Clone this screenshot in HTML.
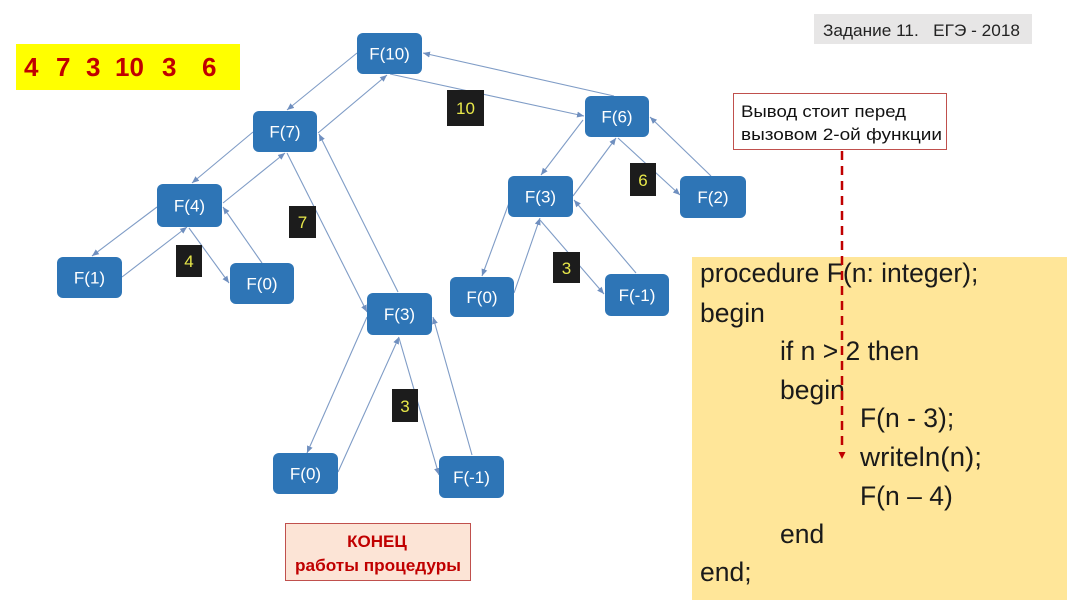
<!DOCTYPE html>
<html><head><meta charset="utf-8"><style>
html,body{margin:0;padding:0;background:#fff;}
body{width:1067px;height:600px;overflow:hidden;position:relative;font-family:"Liberation Sans",sans-serif;}
svg{position:absolute;left:0;top:0;}
</style></head><body>
<svg width="1067" height="600" viewBox="0 0 1067 600" xmlns="http://www.w3.org/2000/svg">
<defs>
<marker id="a" markerUnits="userSpaceOnUse" markerWidth="8" markerHeight="8" refX="7" refY="4" orient="auto">
<path d="M0,1 L7,4 L0,7 z" fill="#6f8fbf"/>
</marker>
</defs>
<!-- procedure box -->
<rect x="692" y="257" width="375" height="343" fill="#ffe699"/>
<!-- yellow numbers -->
<rect x="16" y="44" width="224" height="46" fill="#ffff00"/>
<g font-family="Liberation Sans, sans-serif" font-weight="bold" font-size="26" fill="#c00000">
<text x="24" y="76">4</text><text x="56" y="76">7</text><text x="86" y="76">3</text><text x="115" y="76">10</text><text x="162" y="76">3</text><text x="202" y="76">6</text>
</g>
<!-- title -->
<rect x="814" y="14" width="218" height="30" fill="#e7e6e6"/>
<text x="823" y="36" font-size="16.5" fill="#222" font-family="Liberation Sans, sans-serif" xml:space="preserve" textLength="197" lengthAdjust="spacingAndGlyphs">Задание 11.   ЕГЭ - 2018</text>
<!-- note box -->
<rect x="733.5" y="93.5" width="213" height="56" fill="#fff" stroke="#c0504d" stroke-width="1"/>
<text x="741" y="117" font-size="17" fill="#111" font-family="Liberation Sans, sans-serif" textLength="165" lengthAdjust="spacingAndGlyphs">Вывод стоит перед</text>
<text x="741" y="140" font-size="17" fill="#111" font-family="Liberation Sans, sans-serif" textLength="201" lengthAdjust="spacingAndGlyphs">вызовом 2-ой функции</text>
<!-- connectors -->
<g stroke="#7f9cc6" stroke-width="1.1" fill="none" marker-end="url(#a)">
<line x1="357" y1="53" x2="287" y2="110"/>
<line x1="318" y1="133" x2="387" y2="75"/>
<line x1="253" y1="132" x2="192" y2="183"/>
<line x1="223" y1="203" x2="285" y2="153"/>
<line x1="157" y1="207" x2="92" y2="256"/>
<line x1="122" y1="277" x2="187" y2="227"/>
<line x1="189" y1="228" x2="229" y2="283"/>
<line x1="262" y1="263" x2="223" y2="207"/>
<line x1="287" y1="153" x2="367" y2="312"/>
<line x1="398" y1="292" x2="319" y2="134"/>
<line x1="390" y1="74" x2="584" y2="116"/>
<line x1="614" y1="96" x2="423" y2="53"/>
<line x1="583" y1="120" x2="541" y2="175"/>
<line x1="573" y1="196" x2="616" y2="138"/>
<line x1="618" y1="138" x2="680" y2="195"/>
<line x1="711" y1="176" x2="650" y2="117"/>
<line x1="509" y1="203" x2="482" y2="276"/>
<line x1="514" y1="293" x2="540" y2="218"/>
<line x1="540" y1="220" x2="604" y2="294"/>
<line x1="636" y1="273" x2="574" y2="200"/>
<line x1="367" y1="317" x2="307" y2="453"/>
<line x1="338" y1="472" x2="399" y2="337"/>
<line x1="399" y1="338" x2="439" y2="475"/>
<line x1="472" y1="455" x2="433" y2="317"/>
</g>
<!-- nodes -->
<g fill="#2e75b6">
<rect x="357" y="33" width="65" height="41" rx="6"/>
<rect x="253" y="111" width="64" height="41" rx="6"/>
<rect x="157" y="184" width="65" height="43" rx="6"/>
<rect x="57" y="257" width="65" height="41" rx="6"/>
<rect x="230" y="263" width="64" height="41" rx="6"/>
<rect x="367" y="293" width="65" height="42" rx="6"/>
<rect x="273" y="453" width="65" height="41" rx="6"/>
<rect x="439" y="456" width="65" height="42" rx="6"/>
<rect x="585" y="96" width="64" height="41" rx="6"/>
<rect x="508" y="176" width="65" height="41" rx="6"/>
<rect x="680" y="176" width="66" height="42" rx="6"/>
<rect x="450" y="277" width="64" height="40" rx="6"/>
<rect x="605" y="274" width="64" height="42" rx="6"/>
</g>
<g fill="#fff" font-size="17" text-anchor="middle" font-family="Liberation Sans, sans-serif">
<text x="389.5" y="59.5">F(10)</text>
<text x="285" y="137.5">F(7)</text>
<text x="189.5" y="211.5">F(4)</text>
<text x="89.5" y="283.5">F(1)</text>
<text x="262" y="289.5">F(0)</text>
<text x="399.5" y="320">F(3)</text>
<text x="305.5" y="479.5">F(0)</text>
<text x="471.5" y="483">F(-1)</text>
<text x="617" y="122.5">F(6)</text>
<text x="540.5" y="202.5">F(3)</text>
<text x="713" y="203">F(2)</text>
<text x="482" y="303">F(0)</text>
<text x="637" y="301">F(-1)</text>
</g>
<!-- labels -->
<g fill="#1c1c1c">
<rect x="447" y="90" width="37" height="36"/>
<rect x="289" y="206" width="27" height="32"/>
<rect x="176" y="245" width="26" height="32"/>
<rect x="630" y="163" width="26" height="33"/>
<rect x="553" y="252" width="27" height="31"/>
<rect x="392" y="389" width="26" height="33"/>
</g>
<g fill="#e8e84a" font-size="17" text-anchor="middle" font-family="Liberation Sans, sans-serif">
<text x="465.5" y="114">10</text>
<text x="302.5" y="228">7</text>
<text x="189" y="267">4</text>
<text x="643" y="186">6</text>
<text x="566.5" y="274">3</text>
<text x="405" y="412">3</text>
</g>
<!-- KONEC box -->
<rect x="285.5" y="523.5" width="185" height="57" fill="#fce4d6" stroke="#c0504d" stroke-width="1"/>
<text x="377" y="547" font-size="17" font-weight="bold" fill="#c00000" text-anchor="middle" font-family="Liberation Sans, sans-serif">КОНЕЦ</text>
<text x="378" y="571" font-size="17" font-weight="bold" fill="#c00000" text-anchor="middle" font-family="Liberation Sans, sans-serif" textLength="166" lengthAdjust="spacingAndGlyphs">работы процедуры</text>
<!-- code -->
<g font-size="26.5" fill="#1a1a1a" font-family="Liberation Sans, sans-serif">
<text x="700" y="282">procedure F(n: integer);</text>
<text x="700" y="322">begin</text>
<text x="780" y="360">if n &gt; 2 then</text>
<text x="780" y="399">begin</text>
<text x="860" y="427">F(n - 3);</text>
<text x="860" y="466" textLength="122" lengthAdjust="spacingAndGlyphs">writeln(n);</text>
<text x="860" y="505">F(n – 4)</text>
<text x="780" y="543">end</text>
<text x="700" y="581">end;</text>
</g>
<!-- red dashed -->
<line x1="842" y1="151" x2="842" y2="450" stroke="#c00000" stroke-width="2.5" stroke-dasharray="9,6"/>
<path d="M838.5,452 L845.5,452 L842,459 z" fill="#c00000"/>
</svg>
</body></html>
